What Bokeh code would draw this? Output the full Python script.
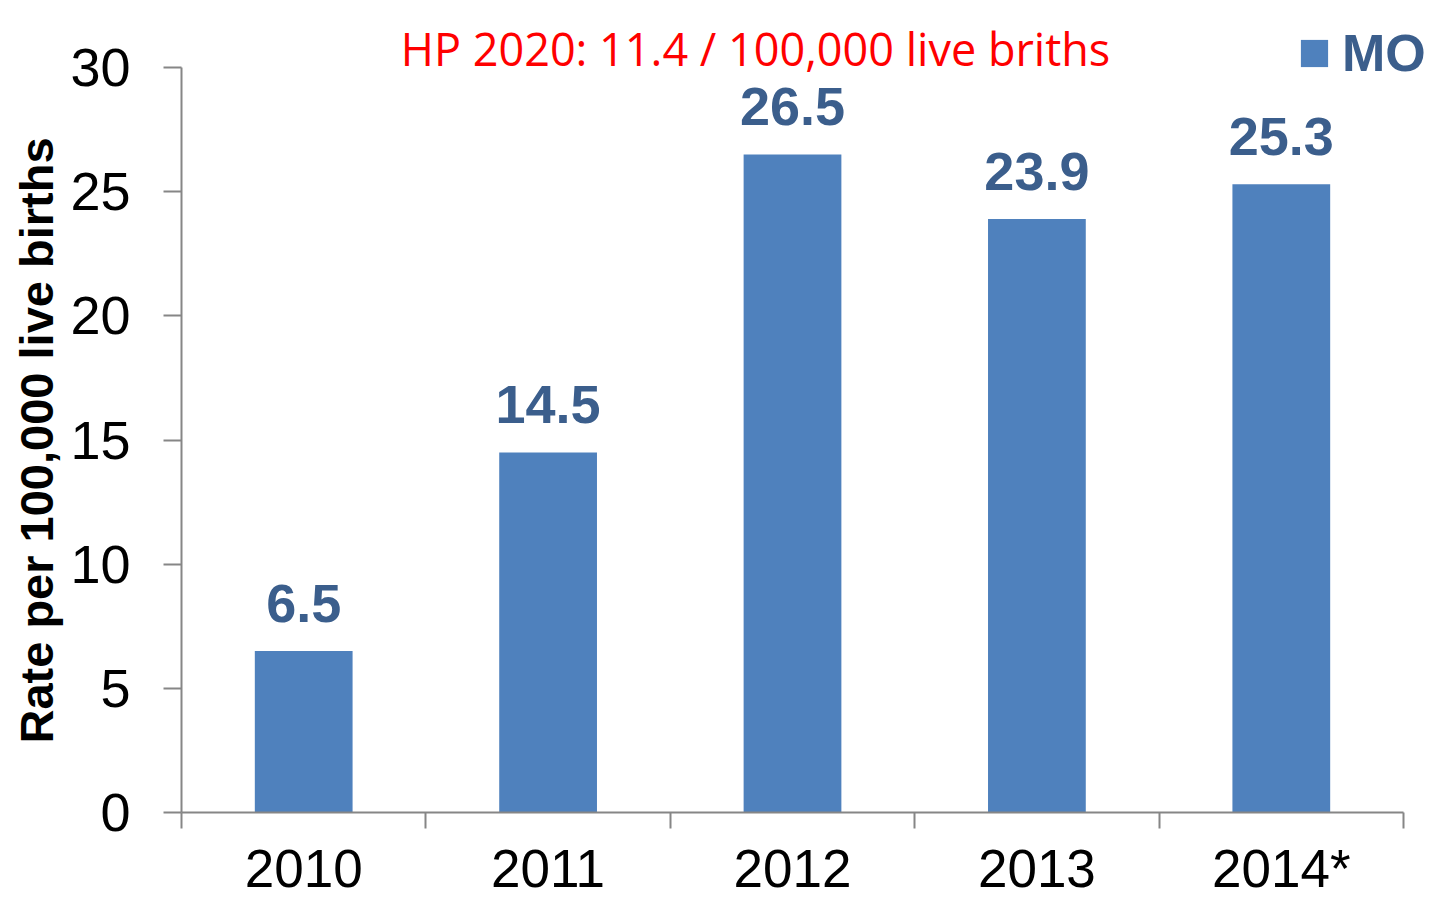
import math
from bokeh.plotting import figure
from bokeh.models import (ColumnDataSource, Range1d, FixedTicker, Legend, LegendItem, Label)
from bokeh.core.properties import value
from bokeh.embed import file_html
from bokeh.resources import INLINE

years = ["2010", "2011", "2012", "2013", "2014*"]
rates = [6.5, 14.5, 26.5, 23.9, 25.3]
series_name = "MO"
title_text = "HP 2020: 11.4 / 100,000 live briths"
y_title = "Rate per 100,000 live births"
y_ticks = [0, 5, 10, 15, 20, 25, 30]
y_max = 30

BAR = "#4F81BD"
LBL = "#3B5E8C"
AX = "#868686"

# layout (pixels inside the figure; the frame covers the whole canvas)
W, H = 1430, 899
LEFT, RIGHT_AXIS_END = 181, 1403          # columns of x axis start / end
AXIS_TOP_PX, AXIS_ZERO_PX = 67, 812       # rows of y=30 and y=0
px_per_unit = (AXIS_ZERO_PX - AXIS_TOP_PX) / y_max
y_start = -(H - AXIS_ZERO_PX) / px_per_unit
y_end = y_max + AXIS_TOP_PX / px_per_unit
n = len(years)
px_per_cat = (RIGHT_AXIS_END - LEFT) / n
x_start = -LEFT / px_per_cat
x_end = n + (W - RIGHT_AXIS_END) / px_per_cat

xs = [i + 0.5 for i in range(n)]
src = ColumnDataSource(dict(x=xs, rate=rates, label=[f"{r:.1f}" for r in rates]))

p = figure(width=W, height=H, output_backend="svg", toolbar_location=None,
           x_range=Range1d(x_start, x_end), y_range=Range1d(y_start, y_end),
           min_border_left=0, min_border_right=0, min_border_top=0, min_border_bottom=0)
p.outline_line_color = None
p.grid.visible = False
p.background_fill_color = "white"
p.border_fill_color = "white"

r = p.vbar(x="x", top="rate", width=0.4, source=src, fill_color=BAR, line_color=None)
p.text(x="x", y="rate", text="label", source=src, text_align="center", text_baseline="bottom",
       y_offset=-29, text_font=value("Liberation Sans"), text_font_style="bold",
       text_font_size="54px", text_color=LBL)

# x axis (drawn at y=0)
xa = p.xaxis[0]
xa.fixed_location = 0
xa.bounds = (0, n)
xa.ticker = FixedTicker(ticks=xs, minor_ticks=list(range(n + 1)))
xa.major_label_overrides = {x: y for x, y in zip(xs, years)}
xa.major_tick_line_color = None
xa.major_tick_out = 16
xa.major_tick_in = 0
xa.minor_tick_line_color = AX
xa.minor_tick_line_width = 2
xa.minor_tick_out = 16
xa.minor_tick_in = 0
xa.axis_line_color = AX
xa.axis_line_width = 2
xa.major_label_text_font = "Liberation Sans"
xa.major_label_text_font_size = "53px"
xa.major_label_text_color = "black"
xa.major_label_standoff = 10

# y axis (drawn at x=0)
ya = p.yaxis[0]
ya.fixed_location = 0
ya.ticker = FixedTicker(ticks=y_ticks)
ya.bounds = (0, y_max)
ya.axis_line_color = AX
ya.axis_line_width = 2
ya.major_tick_line_color = AX
ya.major_tick_line_width = 2
ya.major_tick_out = 18
ya.major_tick_in = 0
ya.minor_tick_line_color = None
ya.major_label_text_font = "Liberation Sans"
ya.major_label_text_font_size = "54px"
ya.major_label_text_color = "black"
ya.major_label_standoff = 33

y_label = Label(x=36, y=H - 440, x_units="screen", y_units="screen", text=y_title,
                angle=math.pi / 2, text_color="black", text_font="Liberation Sans",
                text_font_style="bold", text_font_size="47px",
                text_align="center", text_baseline="alphabetic")
p.add_layout(y_label)

title = Label(x=755, y=H - 48, x_units="screen", y_units="screen", text=title_text,
              text_color="red", text_font="Open Sans", text_font_size="45px",
              text_align="center", text_baseline="alphabetic")
p.add_layout(title)

legend = Legend(items=[LegendItem(label=series_name, renderers=[r])],
                location=(1297, H - 83), orientation="vertical",
                glyph_width=34, glyph_height=34, label_text_font="Liberation Sans",
                label_text_font_style="bold", label_text_font_size="52px",
                label_text_color=LBL, background_fill_alpha=0, border_line_color=None,
                padding=0, margin=0, spacing=0, label_standoff=11)
p.add_layout(legend, "center")

open("out.html", "w").write(file_html(p, INLINE))
